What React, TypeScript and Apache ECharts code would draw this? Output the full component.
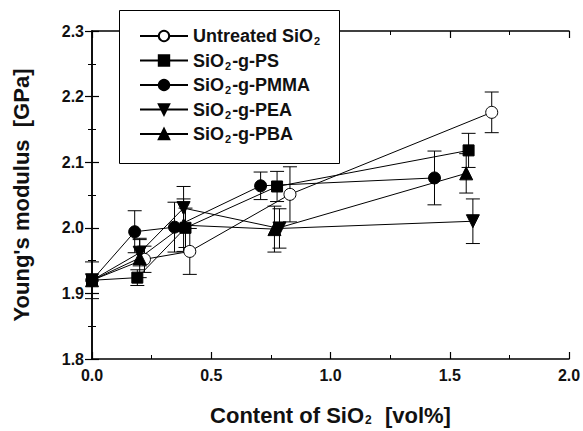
import React, { useEffect, useRef } from "react";
import * as echarts from "echarts";

const seriesNames = ["Untreated SiO2", "SiO2-g-PS", "SiO2-g-PMMA", "SiO2-g-PEA", "SiO2-g-PBA"];
const legendLabels = [
  "{a|Untreated SiO}{s|2}",
  "{a|SiO}{s|2}{a|-g-PS}",
  "{a|SiO}{s|2}{a|-g-PMMA}",
  "{a|SiO}{s|2}{a|-g-PEA}",
  "{a|SiO}{s|2}{a|-g-PBA}",
];
const symbols = ["circle", "rect", "circle", "triangle", "triangle"];
const symbolRotate = [0, 0, 0, 180, 0];
const symbolSizes = [12, 11, 12, 13, 13];
const fills = ["#fff", "#000", "#000", "#000", "#000"];

const untreatedX = [0, 0.22, 0.41, 0.83, 1.676];
const untreatedY = [1.92, 1.952, 1.964, 2.051, 2.176];
const untreatedErr = [0.028, 0.02, 0.035, 0.042, 0.031];

const psX = [0, 0.19, 0.392, 0.776, 1.579];
const psY = [1.92, 1.924, 2.0, 2.063, 2.118];
const psErr = [0, 0.012, 0.03, 0.023, 0.026];

const pmmaX = [0, 0.179, 0.346, 0.707, 1.436];
const pmmaY = [1.92, 1.994, 2.001, 2.064, 2.076];
const pmmaErr = [0, 0.032, 0.038, 0.021, 0.041];

const peaX = [0, 0.2, 0.384, 0.786, 1.597];
const peaY = [1.92, 1.962, 2.03, 1.999, 2.01];
const peaErr = [0, 0.02, 0.033, 0.03, 0.034];

const pbaX = [0, 0.2, 0.384, 0.765, 1.569];
const pbaY = [1.92, 1.954, 2.004, 1.998, 2.083];
const pbaErr = [0, 0.03, 0.04, 0.035, 0.03];

const xTicks = [0, 0.5, 1.0, 1.5, 2.0];
const yTicks = [1.8, 1.9, 2.0, 2.1, 2.2, 2.3];

const allX = [untreatedX, psX, pmmaX, peaX, pbaX];
const allY = [untreatedY, psY, pmmaY, peaY, pbaY];
const allErr = [untreatedErr, psErr, pmmaErr, peaErr, pbaErr];

const FONT = "'Liberation Sans', Arial, sans-serif";

export default function App() {
  const ref = useRef<HTMLDivElement>(null);
  useEffect(() => {
    if (!ref.current) return;
    document.body.style.margin = "0";
    const chart = echarts.init(ref.current, undefined, { renderer: "svg" });

    const series: any[] = [];
    allX.forEach((xs, i) => {
      const errData = xs
        .map((x, j) => [x, allY[i][j] - allErr[i][j], allY[i][j] + allErr[i][j]])
        .filter((d) => d[2] - d[1] > 0);
      series.push({
        type: "custom",
        name: seriesNames[i] + "_err",
        data: errData,
        z: 2,
        silent: true,
        renderItem: (params: any, api: any) => {
          const x = api.value(0);
          const lo = api.coord([x, api.value(1)]);
          const hi = api.coord([x, api.value(2)]);
          const cw = 7;
          const st = { stroke: "#000", lineWidth: 1 };
          return {
            type: "group",
            children: [
              { type: "line", shape: { x1: lo[0], y1: lo[1], x2: hi[0], y2: hi[1] }, style: st },
              { type: "line", shape: { x1: lo[0] - cw, y1: lo[1], x2: lo[0] + cw, y2: lo[1] }, style: st },
              { type: "line", shape: { x1: hi[0] - cw, y1: hi[1], x2: hi[0] + cw, y2: hi[1] }, style: st },
            ],
          };
        },
      });
    });
    allX.forEach((xs, i) => {
      series.push({
        type: "line",
        name: seriesNames[i],
        data: xs.map((x, j) => [x, allY[i][j]]),
        symbol: symbols[i],
        symbolSize: symbolSizes[i],
        symbolRotate: symbolRotate[i],
        showAllSymbol: true,
        lineStyle: { color: "#000", width: 1 },
        itemStyle: { color: fills[i], borderColor: "#000", borderWidth: 1 },
        z: 3,
      });
    });

    const axisCommon = {
      axisLine: { show: true, lineStyle: { color: "#000", width: 1.5 } },
      axisTick: { show: true, inside: true, length: 7, lineStyle: { color: "#000", width: 1.2 } },
      minorTick: { show: true, splitNumber: 2, length: 4, lineStyle: { color: "#000", width: 1 } },
      splitLine: { show: false },
    };

    chart.setOption({
      animation: false,
      backgroundColor: "#fff",
      grid: { left: 92, right: 14, top: 31, bottom: 72, containLabel: false, outerBoundsMode: "none" },
      xAxis: [
        {
          type: "value",
          min: xTicks[0],
          max: xTicks[xTicks.length - 1],
          interval: 0.5,
          ...axisCommon,
          axisLabel: {
            margin: 8,
            color: "#111",
            fontSize: 16,
            fontWeight: "bold",
            fontFamily: FONT,
            hideOverlap: false,
            showMaxLabel: true,
            showMinLabel: true,
            formatter: (v: number) => v.toFixed(1),
          },
          name: "{a|Content of SiO}{s|2}{a|  [vol%]}",
          nameLocation: "middle",
          nameGap: 45,
          nameTextStyle: {
            rich: {
              a: { fontSize: 22, fontWeight: "bold", fontFamily: FONT, color: "#111" },
              s: { fontSize: 12, fontWeight: "bold", fontFamily: FONT, color: "#111", padding: [10, 1, 0, 1] },
            },
          },
        },
        {
          type: "value",
          position: "top",
          min: xTicks[0],
          max: xTicks[xTicks.length - 1],
          interval: 0.5,
          ...axisCommon,
          axisLabel: { show: false },
        },
      ],
      yAxis: [
        {
          type: "value",
          min: yTicks[0],
          max: yTicks[yTicks.length - 1],
          interval: 0.1,
          ...axisCommon,
          axisLabel: {
            margin: 8,
            color: "#111",
            fontSize: 16,
            fontWeight: "bold",
            fontFamily: FONT,
            showMaxLabel: true,
            showMinLabel: true,
            formatter: (v: number) => v.toFixed(1),
          },
          name: "Young's modulus  [GPa]",
          nameLocation: "middle",
          nameGap: 60,
          nameTextStyle: { fontSize: 22, fontWeight: "bold", fontFamily: FONT, color: "#111" },
        },
        {
          type: "value",
          position: "right",
          min: yTicks[0],
          max: yTicks[yTicks.length - 1],
          interval: 0.1,
          ...axisCommon,
          axisLabel: { show: false },
        },
      ],
      legend: {
        show: true,
        orient: "vertical",
        left: 139,
        top: 27,
        padding: 0,
        z: 10,
        data: seriesNames,
        itemWidth: 48,
        itemHeight: 13,
        itemGap: 5,
        formatter: (name: string) => legendLabels[seriesNames.indexOf(name)],
        textStyle: {
          rich: {
            a: { fontSize: 18, fontWeight: "bold", fontFamily: FONT, color: "#111" },
            s: { fontSize: 11, fontWeight: "bold", fontFamily: FONT, color: "#111", padding: [10, 1, 0, 1] },
          },
        },
      },
      graphic: [
        {
          type: "rect",
          z: 5,
          shape: { x: 119.5, y: 10.5, width: 220, height: 153 },
          style: { fill: "#fff", stroke: "#000", lineWidth: 1 },
        },
      ],
      series,
    });
    return () => chart.dispose();
  }, []);
  return <div ref={ref} style={{ width: 583, height: 431 }} />;
}
